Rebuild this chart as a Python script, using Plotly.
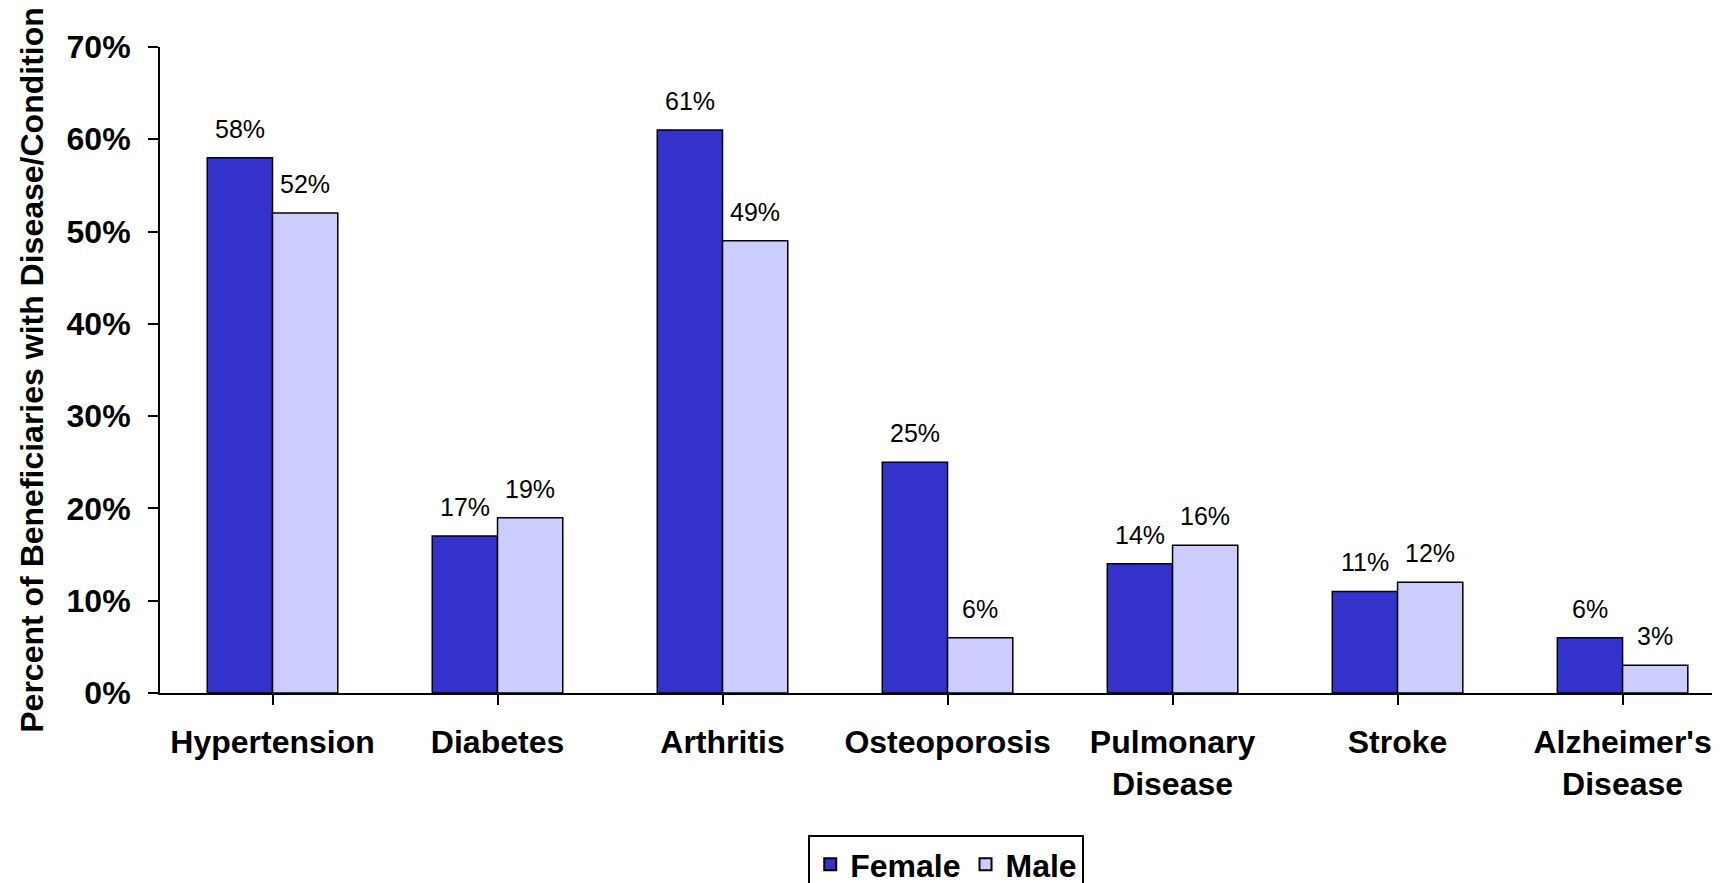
import plotly.graph_objects as go

categories = ["Hypertension", "Diabetes", "Arthritis", "Osteoporosis",
              "Pulmonary<br>Disease", "Stroke", "Alzheimer's<br>Disease"]
female = [58, 17, 61, 25, 14, 11, 6]
male = [52, 19, 49, 6, 16, 12, 3]
series_names = ["Female", "Male"]
y_ticks = [0, 10, 20, 30, 40, 50, 60, 70]
y_tick_labels = [f"{v}%" for v in y_ticks]

FONT = "Arial, 'Liberation Sans', sans-serif"
colors = ["#3333CC", "#CCCCFF"]

fig = go.Figure()
for name, vals, col in zip(series_names, [female, male], colors):
    fig.add_trace(go.Bar(
        name=name, x=list(range(len(categories))), y=vals,
        marker=dict(color=col, line=dict(color="black", width=1.5)),
        hoverinfo="skip",
    ))

# data labels
half_bar_px = 32.7
annotations = []
for si, vals in enumerate([female, male]):
    for i, v in enumerate(vals):
        annotations.append(dict(
            x=i, y=v, xref="x", yref="y", text=f"{v}%", showarrow=False,
            xanchor="center", yanchor="bottom",
            xshift=-half_bar_px if si == 0 else half_bar_px, yshift=13,
            font=dict(family=FONT, size=25, color="black"),
        ))

# the page body adds an 8px offset, so the figure is sized 8px smaller
fig.update_layout(
    width=1712, height=875,
    margin=dict(l=152, r=0, t=39, b=190, autoexpand=False),
    paper_bgcolor="white", plot_bgcolor="white",
    barmode="group", bargap=0.42, bargroupgap=0,
    font=dict(family=FONT, color="black"),
    annotations=annotations,
    legend=dict(
        orientation="h", x=0.504, xanchor="center", y=-0.2198, yanchor="top",
        bordercolor="black", borderwidth=2,
        font=dict(family=FONT, size=32, color="black", weight="bold"),
        itemsizing="constant",
    ),
    xaxis=dict(
        tickmode="array", tickvals=list(range(len(categories))), ticktext=categories,
        range=[-0.5, 6.433], showline=True, linecolor="black", linewidth=2,
        ticks="outside", tickson="boundaries", ticklen=10, tickwidth=2, tickcolor="black",
        tickfont=dict(family=FONT, size=32, color="black", weight="bold"),
        ticklabelstandoff=10, showgrid=False, zeroline=False, automargin=False,
    ),
    yaxis=dict(
        range=[0, 70], tickmode="array", tickvals=y_ticks, ticktext=y_tick_labels,
        showline=True, linecolor="black", linewidth=2,
        ticks="outside", ticklen=10, tickwidth=2, tickcolor="black",
        tickfont=dict(family=FONT, size=32, color="black", weight="bold"),
        ticklabelstandoff=11, showgrid=False, zeroline=False, automargin=False,
        title=dict(text="Percent of Beneficiaries with Disease/Condition",
                   font=dict(family=FONT, size=32, color="black", weight="bold"),
                   standoff=13),
    ),
)

fig.write_html("out.html")
